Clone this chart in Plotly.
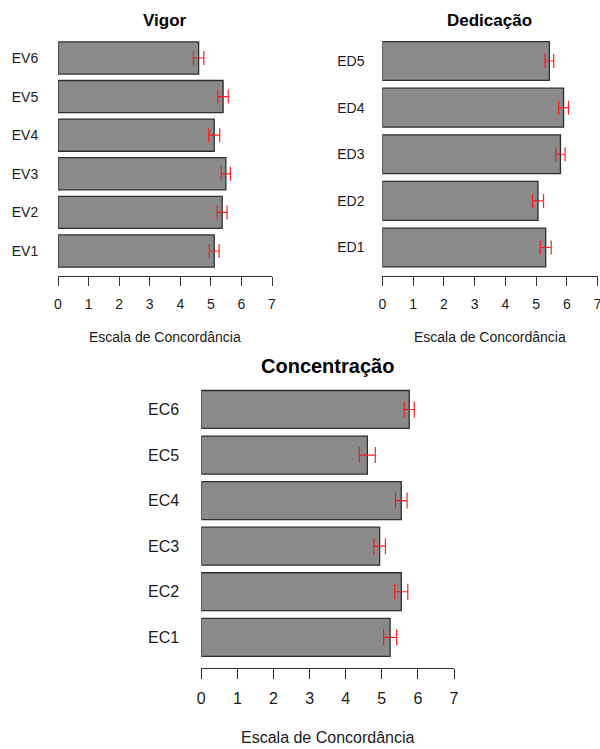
import plotly.graph_objects as go

W, H = 600, 749

# ---- data ----
vigor_labels = ["EV1", "EV2", "EV3", "EV4", "EV5", "EV6"]
vigor_means = [5.11, 5.37, 5.49, 5.11, 5.40, 4.60]
vigor_err = [0.16, 0.16, 0.15, 0.18, 0.17, 0.17]

ded_labels = ["ED1", "ED2", "ED3", "ED4", "ED5"]
ded_means = [5.31, 5.06, 5.79, 5.89, 5.43]
ded_err = [0.18, 0.18, 0.15, 0.16, 0.14]

conc_labels = ["EC1", "EC2", "EC3", "EC4", "EC5", "EC6"]
conc_means = [5.23, 5.54, 4.94, 5.54, 4.60, 5.76]
conc_err = [0.18, 0.18, 0.16, 0.16, 0.22, 0.14]

x_ticks = [0, 1, 2, 3, 4, 5, 6, 7]
x_title = "Escala de Concordância"

FONT = "Liberation Sans, Arial, sans-serif"
TXT = "#1a1a1a"


def px_x(p):
    return p / W


def px_y(p):
    return 1 - p / H


panels = [
    dict(title="Vigor", labels=vigor_labels, means=vigor_means, errs=vigor_err,
         xdom=(58, 272), ydom=(38.7, 276), yr=(-0.648, 5.5), fs=14, ts=17,
         tpos=(165, 20.7), xtpos=(165, 337), cap=7, gap=16, tl=9),
    dict(title="Dedicação", labels=ded_labels, means=ded_means, errs=ded_err,
         xdom=(382.3, 597.7), ydom=(37.7, 276), yr=(-0.611, 4.5), fs=14, ts=17,
         tpos=(489.5, 20.7), xtpos=(490, 337), cap=7, gap=14, tl=9),
    dict(title="Concentração", labels=conc_labels, means=conc_means, errs=conc_err,
         xdom=(201.3, 454), ydom=(386.7, 667.7), yr=(-0.667, 5.5), fs=16, ts=20,
         tpos=(327, 366), xtpos=(327.7, 737), cap=8, gap=18, tl=10),
]

fig = go.Figure()
layout = dict(
    width=W, height=H,
    margin=dict(l=0, r=0, t=0, b=0, autoexpand=False),
    paper_bgcolor="white", plot_bgcolor="white",
    showlegend=False,
    font=dict(family=FONT, color=TXT),
)
annotations = []

for i, p in enumerate(panels, start=1):
    xa = "x" if i == 1 else f"x{i}"
    ya = "y" if i == 1 else f"y{i}"
    pos = list(range(len(p["labels"])))
    fig.add_trace(go.Bar(
        x=p["means"], y=pos, orientation="h", width=0.833,
        marker=dict(color="#8a8a8a", line=dict(color="#2e2e2e", width=1.3)),
        error_x=dict(type="data", array=p["errs"], color="rgba(255,20,20,0.95)",
                     thickness=1.2, width=p["cap"]),
        xaxis=xa, yaxis=ya, hoverinfo="skip",
    ))
    xkey = "xaxis" if i == 1 else f"xaxis{i}"
    ykey = "yaxis" if i == 1 else f"yaxis{i}"
    layout[xkey] = dict(
        domain=[px_x(p["xdom"][0]), px_x(p["xdom"][1])],
        anchor=ya, range=[0, 7], tickvals=x_ticks,
        ticktext=[str(t) for t in x_ticks],
        showline=True, linecolor="#333", linewidth=1,
        ticks="outside", ticklen=p["tl"], tickcolor="#333", tickwidth=1,
        showgrid=False, zeroline=False, fixedrange=True, automargin=False,
        tickfont=dict(size=p["fs"], color=TXT, family=FONT),
        ticklabelstandoff=6, ticklabeloverflow="allow",
    )
    layout[ykey] = dict(
        domain=[px_y(p["ydom"][1]), px_y(p["ydom"][0])],
        anchor=xa, range=list(p["yr"]), tickvals=pos, ticktext=p["labels"],
        showline=False, showgrid=False, zeroline=False, fixedrange=True,
        automargin=False, ticklabeloverflow="allow",
        ticks="outside", ticklen=p["gap"], tickcolor="rgba(0,0,0,0)",
        tickfont=dict(size=p["fs"], color=TXT, family=FONT),
    )
    annotations.append(dict(
        text=f"<b>{p['title']}</b>", x=px_x(p["tpos"][0]), y=px_y(p["tpos"][1]),
        xref="paper", yref="paper", xanchor="center", yanchor="middle",
        showarrow=False, font=dict(size=p["ts"], color="#000", family=FONT),
    ))
    annotations.append(dict(
        text=x_title, x=px_x(p["xtpos"][0]), y=px_y(p["xtpos"][1]),
        xref="paper", yref="paper", xanchor="center", yanchor="middle",
        showarrow=False, font=dict(size=p["fs"], color=TXT, family=FONT),
    ))

layout["annotations"] = annotations
fig.update_layout(**layout)
fig.write_html(
    "out.html",
    config={"displayModeBar": False, "staticPlot": True},
    post_script="document.body.style.margin='0';document.body.style.overflow='hidden';",
)
